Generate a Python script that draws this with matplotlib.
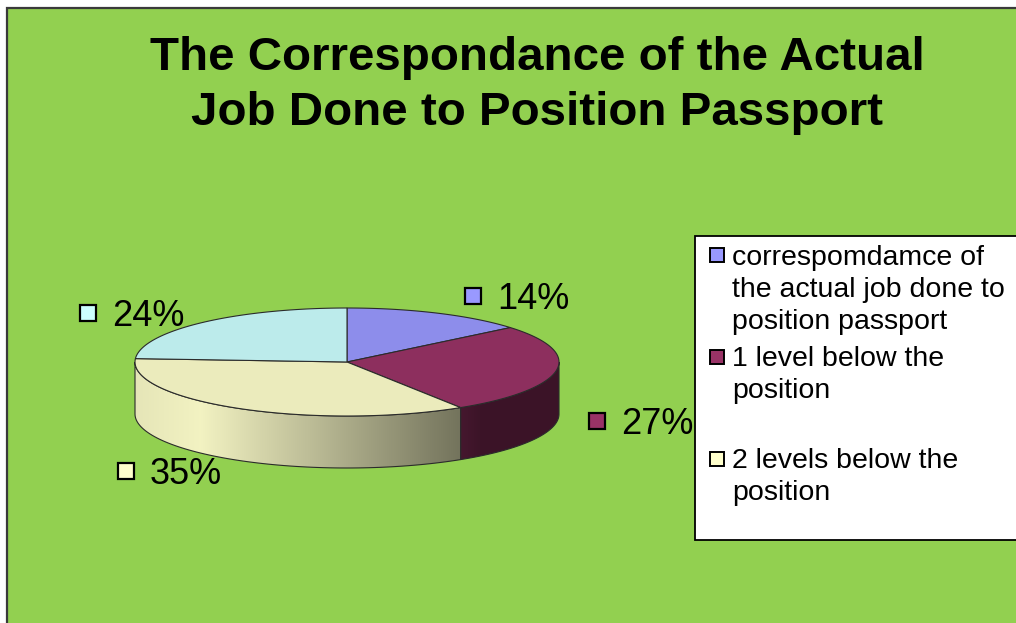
import numpy as np
import matplotlib.pyplot as plt
from matplotlib.patches import Polygon, Rectangle
from matplotlib.colors import to_rgb

plt.rcParams['font.family'] = ['Liberation Sans', 'DejaVu Sans']

# data
title = "The Correspondance of the Actual\nJob Done to Position Passport"
values = [14, 27, 35, 24]
slice_colors = ['#9999FF', '#993366', '#FFFFCC', '#CCFFFF']
legend_labels = [
    "correspomdamce of\nthe actual job done to\nposition passport",
    "1 level below the\nposition",
    "2 levels below the\nposition",
]

W, H = 1016, 623
fig = plt.figure(figsize=(W / 100, H / 100), dpi=100)
ax = fig.add_axes([0, 0, 1, 1])
ax.set_xlim(0, W)
ax.set_ylim(H, 0)
ax.axis('off')

# chart area: green with dark frame, a thin white margin top/left
ax.add_patch(Rectangle((7, 8), W + 20, H + 20, facecolor='#92D050',
                       edgecolor='#3a3a3a', lw=1.6, zorder=0))

# 3d pie geometry (pixels)
cx, cy, rx, ry, depth = 347, 362, 212, 54, 52


def ell(theta, yoff=0.0):
    t = np.radians(theta)
    return cx + rx * np.sin(t), cy - ry * np.cos(t) + yoff


def shade(x):
    # light from the left, dark on the right (like the excel side gradient)
    return np.interp(x, [cx - rx, 200, 462, 480, cx + rx],
                     [0.90, 0.95, 0.45, 0.39, 0.39])


angles = np.array(values) / sum(values) * 360
starts = np.concatenate([[0], np.cumsum(angles)[:-1]])
ends = starts + angles

# side walls (only the front half is visible)
for s, e, c in zip(starts, ends, slice_colors):
    a, b = max(s, 90), min(e, 270)
    if a >= b:
        continue
    th = np.linspace(a, b, 80)
    xs, ys = ell(th)
    xb, yb = ell(th[::-1], depth)
    pts = np.column_stack([np.concatenate([xs, xb]), np.concatenate([ys, yb])])
    poly = Polygon(pts, closed=True, facecolor='none', edgecolor='#2b2b2b',
                   lw=0.8, zorder=3)
    ax.add_patch(poly)
    x0, x1 = pts[:, 0].min(), pts[:, 0].max()
    gx = np.linspace(x0, x1, 200)
    img = np.clip(np.array(to_rgb(c))[None, None, :] * shade(gx)[None, :, None], 0, 1)
    im = ax.imshow(img, extent=[x0, x1, pts[:, 1].max(), pts[:, 1].min()],
                   aspect='auto', zorder=2, interpolation='bilinear')
    im.set_clip_path(poly)

# top faces
for s, e, c in zip(starts, ends, slice_colors):
    th = np.linspace(s, e, 100)
    xs, ys = ell(th)
    pts = np.column_stack([np.concatenate([[cx], xs]), np.concatenate([[cy], ys])])
    top = np.clip(np.array(to_rgb(c)) * 0.92, 0, 1)
    ax.add_patch(Polygon(pts, closed=True, facecolor=top, edgecolor='#2b2b2b',
                         lw=0.8, zorder=4))

ax.set_xlim(0, W)
ax.set_ylim(H, 0)

# data labels with little colour keys
label_pos = [(473, 296), (597, 421), (126, 471), (88, 313)]
for (lx, ly), v, c in zip(label_pos, values, slice_colors):
    ax.add_patch(Rectangle((lx - 8, ly - 8), 16, 16, facecolor=c,
                           edgecolor='black', lw=1.6, zorder=5))
    ax.text(lx + 24, ly + 13, f"{v}%", fontsize=26, ha='left', va='baseline', zorder=5)

# legend box (fourth entry falls outside the box, as in the original)
ax.add_patch(Rectangle((695, 236), 400, 304, facecolor='white',
                       edgecolor='black', lw=1.3, zorder=6))
line_h = 33
for i, (lab, c) in enumerate(zip(legend_labels, slice_colors)):
    base = 263 + i * 102
    ax.add_patch(Rectangle((710, base - 15), 14, 14, facecolor=c,
                           edgecolor='black', lw=1.4, zorder=7))
    # baseline alignment uses the last line, so shift by the number of extra lines
    ax.text(732, base + lab.count('\n') * line_h, lab, fontsize=20.5, ha='left',
            va='baseline', linespacing=1.3, zorder=7)

# title, one line at a time so the baselines land where they should
for k, line in enumerate(title.split('\n')):
    ax.text(537, 70 + k * 55, line, fontsize=34.2, fontweight='bold',
            ha='center', va='baseline', zorder=5)

fig.savefig("out.png", dpi=100)
